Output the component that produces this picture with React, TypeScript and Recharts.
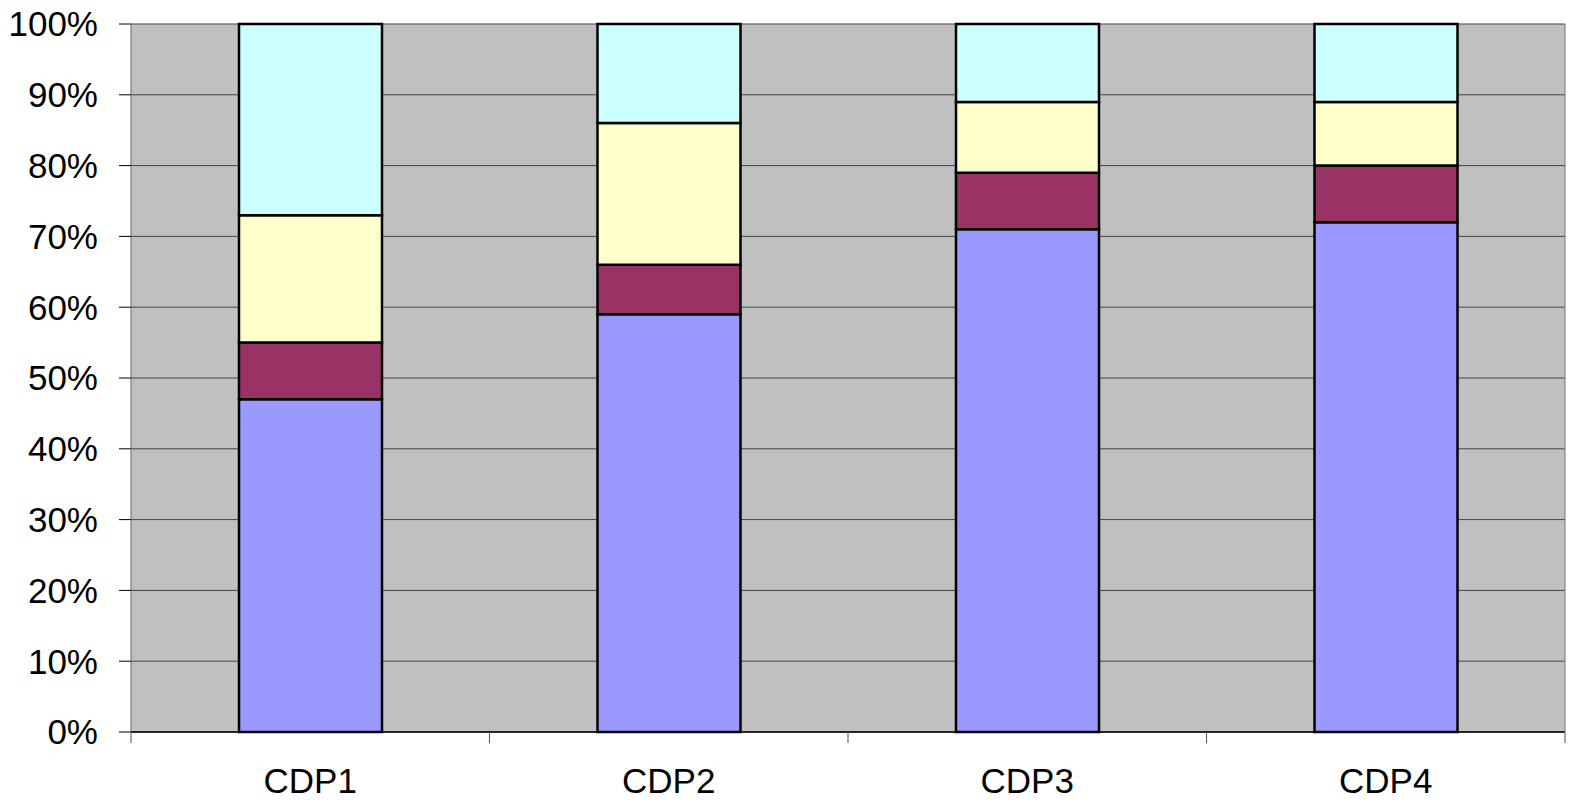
import { BarChart, Bar, XAxis, YAxis, CartesianGrid } from "recharts";

const categories = ["CDP1", "CDP2", "CDP3", "CDP4"];
const seriesA = [47, 59, 71, 72];
const seriesB = [8, 7, 8, 8];
const seriesC = [18, 20, 10, 9];
const seriesD = [27, 14, 11, 11];
const yTicks = [0, 10, 20, 30, 40, 50, 60, 70, 80, 90, 100];

const data = categories.map((name, i) => ({
  name,
  a: seriesA[i],
  b: seriesB[i],
  c: seriesC[i],
  d: seriesD[i],
}));

const PLOT_LEFT = 131;
const PLOT_RIGHT = 1565;
const BAND = (PLOT_RIGHT - PLOT_LEFT) / categories.length;
const font = "'Liberation Sans', Arial, sans-serif";

// x ticks sit on the category boundaries, labels in the middle
const CategoryTick = (props: any) => {
  const { x, y, payload, index } = props;
  const left = x - BAND / 2;
  return (
    <g>
      <line x1={left} y1={y - 8} x2={left} y2={y + 3} stroke="#555" strokeWidth={1} />
      {index === categories.length - 1 && (
        <line x1={x + BAND / 2} y1={y - 8} x2={x + BAND / 2} y2={y + 3} stroke="#555" strokeWidth={1} />
      )}
      <text x={x} y={y + 28} dy="0.71em" textAnchor="middle" fontSize={35} fill="#000" fontFamily={font}>
        {payload.value}
      </text>
    </g>
  );
};

const barStroke = { stroke: "#000", strokeWidth: 2.5 };

export default function App() {
  return (
    <div style={{ position: "absolute", left: 0, top: 0, background: "#fff" }}>
      <BarChart
        width={1572}
        height={805}
        data={data}
        margin={{ top: 24, right: 0, bottom: 0, left: 0 }}
        barSize={143}
      >
        <CartesianGrid vertical={false} stroke="#444" fill="#C0C0C0" fillOpacity={1} />
        <XAxis
          dataKey="name"
          height={73}
          tickLine={false}
          axisLine={{ stroke: "#000", strokeWidth: 1.5 }}
          tick={<CategoryTick />}
          interval={0}
        />
        <YAxis
          width={131}
          domain={[0, 100]}
          ticks={yTicks}
          interval={0}
          tickFormatter={(v: number) => `${v}%`}
          tickSize={12}
          tickMargin={21}
          tickLine={{ stroke: "#000" }}
          axisLine={{ stroke: "#666" }}
          tick={{ fontSize: 35, fill: "#000", fontFamily: font }}
        />
        <YAxis
          yAxisId="r"
          orientation="right"
          width={7}
          domain={[0, 100]}
          tick={false}
          tickLine={false}
          axisLine={{ stroke: "#777" }}
        />
        <Bar dataKey="a" stackId="s" fill="#9999FF" {...barStroke} isAnimationActive={false} />
        <Bar dataKey="b" stackId="s" fill="#993366" {...barStroke} isAnimationActive={false} />
        <Bar dataKey="c" stackId="s" fill="#FFFFCC" {...barStroke} isAnimationActive={false} />
        <Bar dataKey="d" stackId="s" fill="#CCFFFF" {...barStroke} isAnimationActive={false} />
      </BarChart>
    </div>
  );
}
